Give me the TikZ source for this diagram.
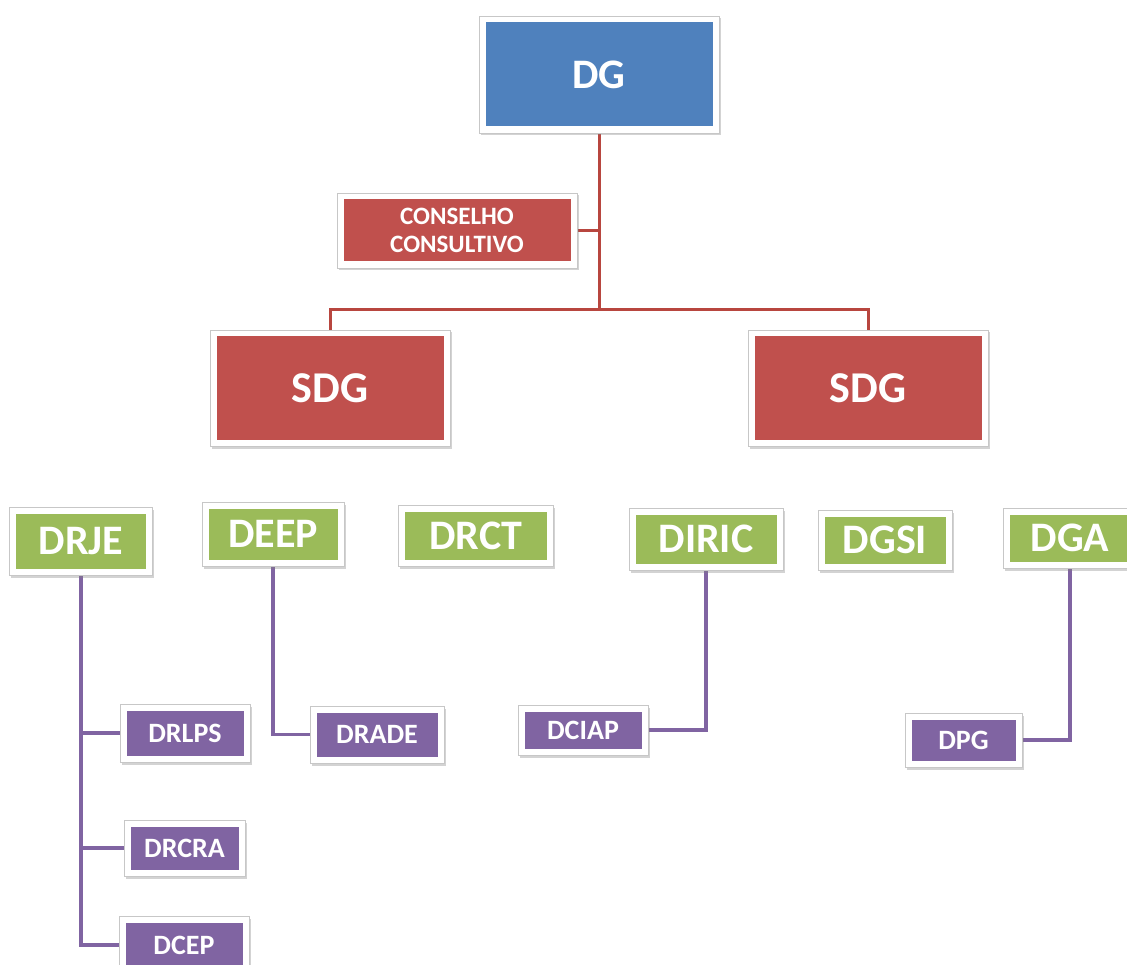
\documentclass[tikz,border=0pt]{standalone}
\usepackage{fontspec}
\setmainfont{Carlito}
\usetikzlibrary{shadows,backgrounds}

\definecolor{dgblue}{HTML}{4F81BD}
\definecolor{sdgred}{HTML}{C0504D}
\definecolor{dirgreen}{HTML}{9BBB59}
\definecolor{divpurple}{HTML}{8064A2}
\definecolor{redlink}{HTML}{B8463F}

\tikzset{
  orgbox/.style={draw=black!22, line width=0.8pt, fill=white, inner sep=0pt,
    drop shadow={shadow xshift=1.5pt, shadow yshift=-2.5pt, opacity=0.35},
    text=white, align=center,
    path picture={\fill[#1] ([shift={(6.5pt,-6.5pt)}]path picture bounding box.north west)
      rectangle ([shift={(-6.5pt,6.5pt)}]path picture bounding box.south east);}},
  toptxt/.style={font=\bfseries\fontsize{42}{42}\selectfont},
  sdgtxt/.style={font=\bfseries\fontsize{44}{44}\selectfont},
  dirtxt/.style={font=\bfseries\fontsize{42}{42}\selectfont},
  divtxt/.style={font=\bfseries\fontsize{28}{28}\selectfont},
  constxt/.style={font=\bfseries\fontsize{25}{28}\selectfont},
  redwire/.style={draw=redlink, line width=3pt},
  purplewire/.style={draw=divpurple, line width=3.5pt},
}

\begin{document}
\begin{tikzpicture}[x=1pt, y=-1pt]
    \useasboundingbox (0,0) rectangle (1127,965);

    % top level
    \node[orgbox=dgblue, toptxt, minimum width=240pt, minimum height=117pt] (dg) at (599,74.5) {DG};
    \node[orgbox=sdgred, constxt, minimum width=240pt, minimum height=75pt] (cons) at (457,230.5) {CONSELHO\\CONSULTIVO};
    \node[orgbox=sdgred, sdgtxt, minimum width=240pt, minimum height=116pt] (sdgl) at (330,388) {SDG};
    \node[orgbox=sdgred, sdgtxt, minimum width=240pt, minimum height=116pt] (sdgr) at (868,388) {SDG};
    \coordinate (split) at (599,310);

    % directions
    \node[orgbox=dirgreen, dirtxt, minimum width=143pt, minimum height=68pt] (drje) at (81,541) {DRJE};
    \node[orgbox=dirgreen, dirtxt, minimum width=142pt, minimum height=64pt] (deep) at (273,534) {DEEP};
    \node[orgbox=dirgreen, dirtxt, minimum width=155pt, minimum height=61pt] (drct) at (476,535.5) {DRCT};
    \node[orgbox=dirgreen, dirtxt, minimum width=154pt, minimum height=62pt] (diric) at (706,539) {DIRIC};
    \node[orgbox=dirgreen, dirtxt, minimum width=134pt, minimum height=60pt] (dgsi) at (885,540) {DGSI};
    \node[orgbox=dirgreen, dirtxt, minimum width=134pt, minimum height=60pt] (dga) at (1070,538) {DGA};

    % divisions
    \node[orgbox=divpurple, divtxt, minimum width=130pt, minimum height=58pt] (drlps) at (185,733) {DRLPS};
    \node[orgbox=divpurple, divtxt, minimum width=121pt, minimum height=56pt] (drcra) at (184.5,848) {DRCRA};
    \node[orgbox=divpurple, divtxt, minimum width=130pt, minimum height=58pt] (dcep) at (184,945) {DCEP};
    \node[orgbox=divpurple, divtxt, minimum width=134pt, minimum height=57pt] (drade) at (377,734.5) {DRADE};
    \node[orgbox=divpurple, divtxt, minimum width=130pt, minimum height=50pt] (dciap) at (583,730) {DCIAP};
    \node[orgbox=divpurple, divtxt, minimum width=117pt, minimum height=54pt] (dpg) at (963.5,740) {DPG};

    \begin{scope}[on background layer]
        \draw[redwire] (dg.south) -- (split);
        \draw[redwire] (sdgl.north) |- (split) -| (sdgr.north);
        \draw[redwire] (cons.east) -- (cons.east -| dg.south);

        \foreach \d in {drlps,drcra,dcep} \draw[purplewire] (drje.south) |- (\d.west);
        \draw[purplewire] (deep.south) |- (drade.west);
        \draw[purplewire] (diric.south) |- (dciap.east);
        \draw[purplewire] (dga.south) |- (dpg.east);
    \end{scope}
\end{tikzpicture}
\end{document}
